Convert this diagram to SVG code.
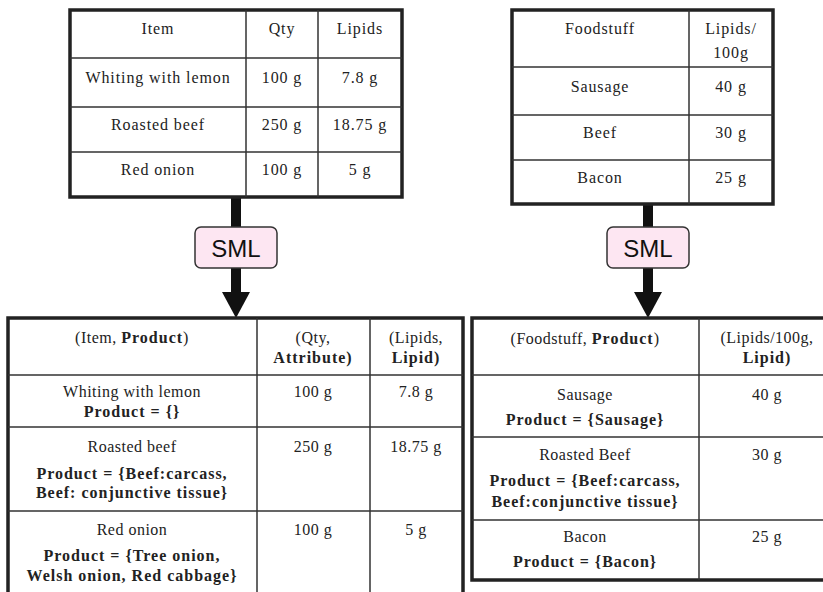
<svg xmlns="http://www.w3.org/2000/svg" width="823" height="592" viewBox="0 0 823 592">
<style>
.frame{fill:#fff;stroke:#222;stroke-width:3.5}
.grid{stroke:#333;stroke-width:1.5;fill:none}
.t{font-family:"Liberation Serif","Times New Roman",serif;font-size:16px;fill:#222;text-anchor:middle;letter-spacing:0.9px}
.s{letter-spacing:0.5px}
.b{font-weight:bold;letter-spacing:1px}
.sml{fill:#fde6f2;stroke:#333;stroke-width:1.5}
.smlt{font-family:"Liberation Sans",Arial,sans-serif;font-size:24px;fill:#111;text-anchor:middle}
.bar{fill:#111}
</style>
<rect width="823" height="592" fill="#fff"/>

<g id="connectors">
  <rect class="bar" x="231" y="196" width="10" height="97"/>
  <polygon class="bar" points="222,292 250,292 236,318"/>
  <rect class="bar" x="643" y="203" width="10" height="90"/>
  <polygon class="bar" points="634,292 662,292 648,318"/>
</g>

<g id="sml-left">
  <rect class="sml" x="195" y="227" width="82" height="41" rx="6"/>
  <text class="smlt" x="236" y="257">SML</text>
</g>
<g id="sml-right">
  <rect class="sml" x="607" y="227" width="82" height="41" rx="6"/>
  <text class="smlt" x="648" y="257">SML</text>
</g>

<g id="table-meals">
  <rect class="frame" x="70" y="10" width="332" height="187"/>
  <path class="grid" d="M246,10V197M318,10V197M70,58H402M70,107H402M70,152H402"/>
  <text class="t" x="158" y="34">Item</text>
  <text class="t" x="282" y="34">Qty</text>
  <text class="t" x="360" y="34">Lipids</text>
  <text class="t" x="158" y="83">Whiting with lemon</text>
  <text class="t" x="282" y="83">100 g</text>
  <text class="t" x="360" y="83">7.8 g</text>
  <text class="t" x="158" y="130">Roasted beef</text>
  <text class="t" x="282" y="130">250 g</text>
  <text class="t" x="360" y="130">18.75 g</text>
  <text class="t" x="158" y="175">Red onion</text>
  <text class="t" x="282" y="175">100 g</text>
  <text class="t" x="360" y="175">5 g</text>
</g>

<g id="table-foods">
  <rect class="frame" x="512" y="10" width="261" height="194"/>
  <path class="grid" d="M689,10V204M512,67H773M512,115H773M512,160H773"/>
  <text class="t" x="600" y="34">Foodstuff</text>
  <text class="t" x="731" y="34">Lipids/</text>
  <text class="t" x="731" y="58">100g</text>
  <text class="t" x="600" y="92">Sausage</text>
  <text class="t" x="731" y="92">40 g</text>
  <text class="t" x="600" y="138">Beef</text>
  <text class="t" x="731" y="138">30 g</text>
  <text class="t" x="600" y="183">Bacon</text>
  <text class="t" x="731" y="183">25 g</text>
</g>

<g id="table-meals-sml">
  <rect class="frame" x="8" y="318" width="455" height="300"/>
  <path class="grid" d="M257,318V600M370,318V600M8,375H463M8,427H463M8,511H463"/>
  <text class="t s" x="132" y="343">(Item, <tspan class="b">Product</tspan>)</text>
  <text class="t s" x="313" y="343">(Qty,</text>
  <text class="t b" x="313" y="363">Attribute)</text>
  <text class="t s" x="416" y="343">(Lipids,</text>
  <text class="t b" x="416" y="363">Lipid)</text>
  <text class="t s" x="132" y="397">Whiting with lemon</text>
  <text class="t b" x="132" y="417">Product = {}</text>
  <text class="t s" x="313" y="397">100 g</text>
  <text class="t s" x="416" y="397">7.8 g</text>
  <text class="t s" x="132" y="452">Roasted beef</text>
  <text class="t b" x="132" y="479">Product = {Beef:carcass,</text>
  <text class="t b" x="132" y="498">Beef: conjunctive tissue}</text>
  <text class="t s" x="313" y="452">250 g</text>
  <text class="t s" x="416" y="452">18.75 g</text>
  <text class="t s" x="132" y="535">Red onion</text>
  <text class="t b" x="132" y="561">Product = {Tree onion,</text>
  <text class="t b" x="132" y="581">Welsh onion, Red cabbage}</text>
  <text class="t s" x="313" y="535">100 g</text>
  <text class="t s" x="416" y="535">5 g</text>
</g>

<g id="table-foods-sml">
  <rect class="frame" x="472" y="318" width="370" height="262"/>
  <path class="grid" d="M699,318V580M472,375H842M472,437H842M472,520H842"/>
  <text class="t s" x="585" y="344">(Foodstuff, <tspan class="b">Product</tspan>)</text>
  <text class="t s" x="767" y="343">(Lipids/100g,</text>
  <text class="t b" x="767" y="363">Lipid)</text>
  <text class="t s" x="585" y="400">Sausage</text>
  <text class="t b" x="585" y="425">Product = {Sausage}</text>
  <text class="t s" x="767" y="400">40 g</text>
  <text class="t s" x="585" y="460">Roasted Beef</text>
  <text class="t b" x="585" y="486">Product = {Beef:carcass,</text>
  <text class="t b" x="585" y="507">Beef:conjunctive tissue}</text>
  <text class="t s" x="767" y="460">30 g</text>
  <text class="t s" x="585" y="542">Bacon</text>
  <text class="t b" x="585" y="567">Product = {Bacon}</text>
  <text class="t s" x="767" y="542">25 g</text>
</g>
</svg>
